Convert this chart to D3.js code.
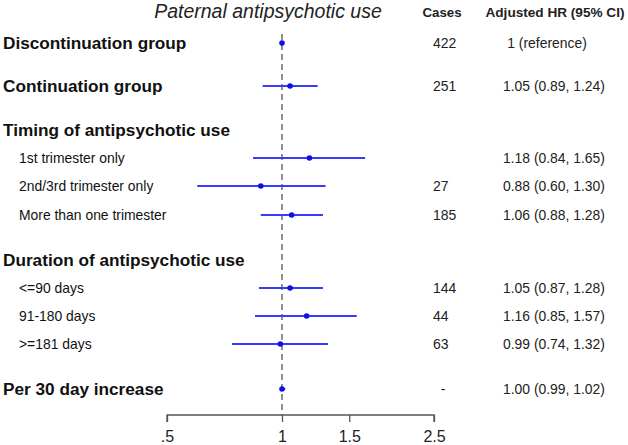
<!DOCTYPE html>
<html><head><meta charset="utf-8">
<script src="https://cdn.jsdelivr.net/npm/d3@7"></script>
<style>body{margin:0;background:#fff;} svg{display:block;font-family:"Liberation Sans",Arial,sans-serif;}</style>
</head><body><svg id="c" width="628" height="445"></svg>
<script>
const labels = ["Discontinuation group","Continuation group","Timing of antipsychotic use","1st trimester only","2nd/3rd trimester only","More than one trimester","Duration of antipsychotic use","<=90 days","91-180 days",">=181 days","Per 30 day increase"];
const isHeader = [true,true,true,false,false,false,true,false,false,false,true];
const rowPos = [43,86,130,158,186,215,260,288,316,344,389];
const hr =    [1,   1.05,null,1.18,0.88,1.06,null,1.05,1.16,0.99,1.00];
const lower = [null,0.89,null,0.84,0.60,0.88,null,0.87,0.85,0.74,0.99];
const upper = [null,1.24,null,1.65,1.30,1.28,null,1.28,1.57,1.32,1.02];
const cases = ["422","251","","","27","185","","144","44","63","-"];
const hrText = ["1 (reference)","1.05 (0.89, 1.24)","","1.18 (0.84, 1.65)","0.88 (0.60, 1.30)","1.06 (0.88, 1.28)","","1.05 (0.87, 1.28)","1.16 (0.85, 1.57)","0.99 (0.74, 1.32)","1.00 (0.99, 1.02)"];
const tickVals = [0.5,1,1.5,2.5];
const tickLabels = [".5","1","1.5","2.5"];

const svg = d3.select("#c");
const x = d3.scaleLog().domain([0.5,2.5]).range([167,434]);
const y = d3.scaleLinear().domain([0,1]).range([0,1]);
const rows = labels.map((l,i)=>({l,h:isHeader[i],yy:y(rowPos[i]),hr:hr[i],lo:lower[i],up:upper[i],c:cases[i],t:hrText[i]}));

// title and column headers
svg.append("text").attr("x",268).attr("y",18).attr("text-anchor","middle").attr("font-style","italic").attr("font-size",19.5).attr("fill","#222").text("Paternal antipsychotic use");
svg.append("text").attr("x",442).attr("y",17).attr("text-anchor","middle").attr("font-weight","bold").attr("font-size",13.3).attr("fill","#222").text("Cases");
svg.append("text").attr("x",555).attr("y",17).attr("text-anchor","middle").attr("font-weight","bold").attr("font-size",13.6).attr("fill","#222").text("Adjusted HR (95% CI)");

// reference line
svg.append("line").attr("x1",x(1)).attr("x2",x(1)).attr("y1",34).attr("y2",415).attr("stroke","#555").attr("stroke-width",1.3).attr("stroke-dasharray","6,4");

// axis
const ax = d3.axisBottom(x).tickValues(tickVals).tickFormat((d,i)=>tickLabels[i]).tickSize(7).tickSizeOuter(0);
const g = svg.append("g").attr("transform","translate(0,415)").call(ax);
g.select(".domain").attr("stroke","#555").attr("stroke-width",1.3).attr("d",`M${x(0.5)},7V0H${x(2.5)}V7`);
g.selectAll(".tick line").attr("stroke","#555").attr("stroke-width",1.3);
g.selectAll(".tick text").attr("font-size",16).attr("fill","#222").attr("dy","1.05em").attr("font-family","Liberation Sans, Arial, sans-serif");

// labels
svg.selectAll("text.lab").data(rows).join("text").attr("class","lab")
  .attr("x",d=>d.h?3:19).attr("y",d=>d.yy).attr("dy","0.36em")
  .attr("font-size",d=>d.h?17.2:13.9).attr("font-weight",d=>d.h?"bold":"normal").attr("fill","#111")
  .text(d=>d.l);

// CIs
const est = rows.filter(d=>d.hr!=null);
svg.selectAll("line.ci").data(est.filter(d=>d.lo!=null)).join("line").attr("class","ci")
  .attr("x1",d=>x(d.lo)).attr("x2",d=>x(d.up)).attr("y1",d=>d.yy).attr("y2",d=>d.yy)
  .attr("stroke","#3a3aff").attr("stroke-width",2);
svg.selectAll("circle.pt").data(est).join("circle").attr("class","pt")
  .attr("cx",d=>x(d.hr)).attr("cy",d=>d.yy).attr("r",2.8).attr("fill","#1010e0");

// cases
svg.selectAll("text.cs").data(rows.filter(d=>d.c)).join("text").attr("class","cs")
  .attr("x",d=>d.c==="-"?443:433).attr("text-anchor",d=>d.c==="-"?"middle":"start")
  .attr("y",d=>d.yy).attr("dy","0.36em").attr("font-size",14).attr("fill","#222").text(d=>d.c);
// HR text
svg.selectAll("text.hr").data(rows.filter(d=>d.t)).join("text").attr("class","hr")
  .attr("x",d=>d.t==="1 (reference)"?547:503).attr("text-anchor",d=>d.t==="1 (reference)"?"middle":"start")
  .attr("y",d=>d.yy).attr("dy","0.36em").attr("font-size",13.9).attr("fill","#222").text(d=>d.t);
</script></body></html>
